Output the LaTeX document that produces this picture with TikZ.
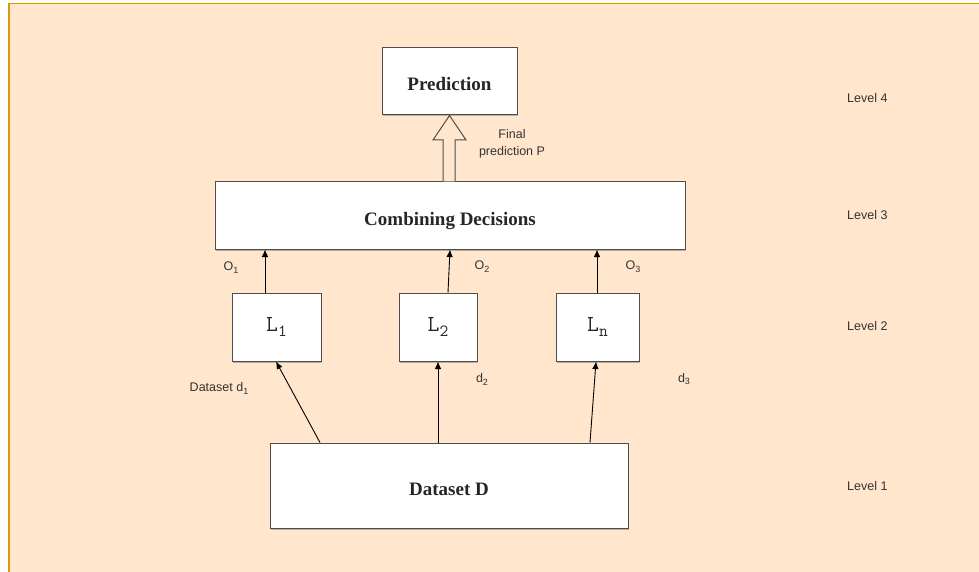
\documentclass[tikz,border=0pt]{standalone}
\usepackage{fontspec}
\setmainfont{Liberation Serif}
\setsansfont{Liberation Sans}
\usetikzlibrary{arrows.meta,shadows,calc}
\definecolor{peach}{HTML}{FFE6CC}
\definecolor{gold}{HTML}{D79B00}
\definecolor{boxline}{HTML}{4D4D4D}
\definecolor{txt}{HTML}{333333}
\newcommand\lsub[1]{\raisebox{-0.45ex}{\fontsize{9}{9}\selectfont #1}}
\newcommand\msub[1]{\raisebox{-0.5ex}{\fontsize{17}{17}\selectfont #1}}
\begin{document}
\begin{tikzpicture}[x=1pt,y=-1pt,
  box/.style={draw=boxline, line width=1pt, fill=white, inner sep=0pt,
    drop shadow={shadow xshift=1pt,shadow yshift=-1.5pt,fill=black,opacity=0.25}},
  boldtext/.style={font=\fontsize{19}{22}\selectfont\bfseries, text=black!85,
    text height=19pt, text depth=0pt},
  lbox/.style={box, font=\fontsize{23}{24}\selectfont\ttfamily, text=black!85},
  lab/.style={font=\fontsize{12.5}{14}\selectfont\sffamily, text=txt, inner sep=0pt},
  arr/.style={-{Latex[length=7.5pt,width=6.5pt]}, line width=0.9pt, black}]
\useasboundingbox (0,0) rectangle (979,572);
\fill[white] (0,0) rectangle (979,572);
\fill[peach] (8,3) rectangle (979,572);
\draw[gold, line width=1.5pt] (8.75,572) -- (8.75,3.75) -- (979,3.75);

\node[box, boldtext, minimum width=135pt, minimum height=67pt] (pred) at (449.5,81.5) {Prediction};
\node[box, boldtext, minimum width=470pt, minimum height=67pt] (comb) at (450,215.5) {Combining Decisions};
\node[lbox, minimum width=89pt, minimum height=68pt] (l1) at (276.5,327) {L\msub{1}};
\node[lbox, minimum width=78pt, minimum height=68pt] (l2) at (438,327) {L\msub{2}};
\node[lbox, minimum width=83pt, minimum height=68pt] (ln) at (597.5,327) {L\msub{n}};
\node[box, boldtext, minimum width=358pt, minimum height=85pt] (data) at (449,485.5) {Dataset D};

% block arrow from combining to prediction
\draw[boxline, line width=1pt, fill=peach]
  (comb.north -| 443,0) -- (443,140) -- (433,140) -- (pred.south -| 449.5,0)
  -- (466,140) -- (455,140) -- (comb.north -| 455,0);

% learner outputs
\draw[arr] (l1.north -| 265,0) -- (comb.south -| 265,0);
\draw[arr] (l2.north -| 448,0) -- (comb.south -| 450,0);
\draw[arr] (ln.north -| 597,0) -- (comb.south -| 597,0);

% dataset to learners
\draw[arr] (data.north -| 320,0) -- (l1.south -| 276,0);
\draw[arr] (data.north -| 438,0) -- (l2.south -| 438,0);
\draw[arr] (data.north -| 590,0) -- (ln.south -| 596,0);

% labels
\node[lab] (o1) at (231,268) {O\lsub{1}};
\node[lab] (o2) at (482,267) {O\lsub{2}};
\node[lab] (o3) at (633,267) {O\lsub{3}};
\node[lab] (d1) at (219,388) {Dataset d\lsub{1}};
\node[lab] (d2) at (482,379) {d\lsub{2}};
\node[lab] (d3) at (684,379) {d\lsub{3}};
\node[lab, align=center] (fp) at (512,144) {Final\\[3pt]prediction P};

\node[lab, anchor=west] (lv4) at (847,98) {Level 4};
\node[lab, anchor=west] (lv3) at (847,215) {Level 3};
\node[lab, anchor=west] (lv2) at (847,326) {Level 2};
\node[lab, anchor=west] (lv1) at (847,486) {Level 1};
\end{tikzpicture}
\end{document}
